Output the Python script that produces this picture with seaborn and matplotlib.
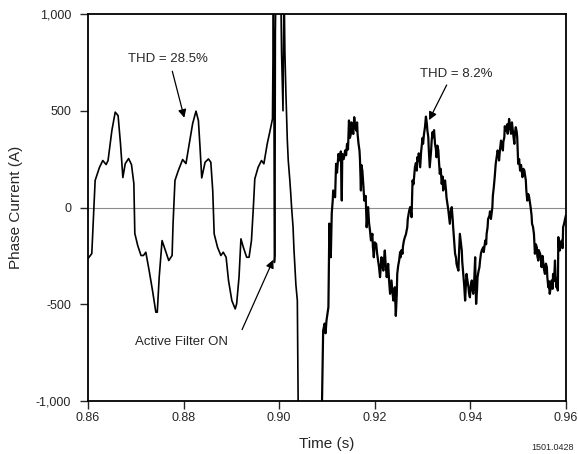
import numpy as np
import pandas as pd
import seaborn as sns
import matplotlib
matplotlib.use("Agg")
import matplotlib.pyplot as plt
from matplotlib.ticker import FuncFormatter

# phase current before the filter switches on (distorted, THD 28.5%)
t_pre = [0.8600, 0.8608, 0.8615, 0.8624, 0.8631, 0.8638, 0.8642, 0.8650, 0.8657, 0.8663,
         0.8668, 0.8673, 0.8678, 0.8685, 0.8691, 0.8696, 0.8698, 0.8704, 0.8711, 0.8716,
         0.8721, 0.8728, 0.8735, 0.8742, 0.8745, 0.8749, 0.8755, 0.8762, 0.8769, 0.8776,
         0.8778, 0.8782, 0.8789, 0.8798, 0.8805, 0.8812, 0.8819, 0.8826, 0.8831, 0.8834,
         0.8838, 0.8845, 0.8852, 0.8857, 0.8861, 0.8864, 0.8871, 0.8878, 0.8883, 0.8889,
         0.8894, 0.8901, 0.8908, 0.8911, 0.8916, 0.8920, 0.8925, 0.8932, 0.8937, 0.8942,
         0.8946, 0.8949, 0.8956, 0.8963, 0.8968, 0.8975, 0.8981, 0.8986]
i_pre = [-264, -238, 140, 207, 243, 222, 243, 398, 493, 475,
         331, 155, 227, 253, 222, 124, -134, -196, -248, -248,
         -231, -326, -429, -541, -541, -360, -171, -222, -274, -248,
         -83, 140, 191, 248, 227, 331, 434, 498, 450, 329,
         153, 234, 251, 234, 88, -136, -205, -248, -231, -257,
         -377, -481, -524, -498, -360, -162, -205, -257, -257, -171,
         2, 148, 208, 243, 226, 329, 398, 458]

# switching transient ("Active Filter ON")
t_mid = [0.8987, 0.8988, 0.8989, 0.8990, 0.8991, 0.8992, 0.8994, 0.8997, 0.9002, 0.9005,
         0.9008, 0.9010, 0.9012, 0.9014, 0.9017, 0.9019, 0.9022, 0.9024, 0.9026, 0.9029,
         0.9031, 0.9033, 0.9035, 0.9038, 0.9040, 0.9054, 0.9075]
i_mid = [760, 1150, 700, -284, -250, 900, 1300, 1200, 1400, 800,
         500, 1200, 800, 600, 350, 243, 150, 80, 0, -100,
         -220, -310, -400, -481, -1100, -1500, -1500]

# filtered current (THD 8.2%)
t_post = [0.9089, 0.9092, 0.9095, 0.9097, 0.9099, 0.9103, 0.9105, 0.9106, 0.9108, 0.9110,
          0.9112, 0.9113, 0.9117, 0.9119, 0.9121, 0.9124, 0.9127, 0.9129, 0.9131, 0.9132,
          0.9135, 0.9138, 0.9140, 0.9142, 0.9144, 0.9146, 0.9148, 0.9150, 0.9151, 0.9153,
          0.9155, 0.9157, 0.9159, 0.9161, 0.9163, 0.9164, 0.9166, 0.9168, 0.9169, 0.9171,
          0.9172, 0.9174, 0.9176, 0.9178, 0.9181, 0.9183, 0.9185, 0.9186, 0.9188, 0.9190,
          0.9192, 0.9195, 0.9196, 0.9198, 0.9200, 0.9203, 0.9205, 0.9207, 0.9209, 0.9211,
          0.9213, 0.9214, 0.9216, 0.9218, 0.9219, 0.9221, 0.9223, 0.9225, 0.9227, 0.9228,
          0.9230, 0.9232, 0.9234, 0.9235, 0.9237, 0.9239, 0.9240, 0.9242, 0.9243, 0.9244,
          0.9246, 0.9247, 0.9249, 0.9251, 0.9253, 0.9254, 0.9256, 0.9258, 0.9259, 0.9261,
          0.9263, 0.9265, 0.9268, 0.9269, 0.9272, 0.9274, 0.9276, 0.9277, 0.9279, 0.9281,
          0.9284, 0.9286, 0.9288, 0.9289, 0.9291, 0.9292, 0.9295, 0.9297, 0.9298, 0.9300,
          0.9301, 0.9303, 0.9305, 0.9307, 0.9309, 0.9310, 0.9312, 0.9313, 0.9315, 0.9318,
          0.9319, 0.9321, 0.9322, 0.9324, 0.9326, 0.9328, 0.9329, 0.9331, 0.9333, 0.9334,
          0.9336, 0.9338, 0.9340, 0.9342, 0.9343, 0.9345, 0.9347, 0.9349, 0.9350, 0.9352,
          0.9354, 0.9355, 0.9357, 0.9359, 0.9361, 0.9363, 0.9364, 0.9366, 0.9368, 0.9370,
          0.9371, 0.9373, 0.9375, 0.9376, 0.9378, 0.9380, 0.9382, 0.9383, 0.9385, 0.9387,
          0.9389, 0.9391, 0.9392, 0.9394, 0.9396, 0.9397, 0.9399, 0.9401, 0.9403, 0.9404,
          0.9406, 0.9408, 0.9410, 0.9411, 0.9412, 0.9414, 0.9415, 0.9417, 0.9419, 0.9420,
          0.9422, 0.9424, 0.9427, 0.9428, 0.9431, 0.9433, 0.9434, 0.9436, 0.9437, 0.9440,
          0.9441, 0.9443, 0.9446, 0.9447, 0.9449, 0.9451, 0.9453, 0.9455, 0.9457, 0.9459,
          0.9460, 0.9462, 0.9464, 0.9466, 0.9468, 0.9469, 0.9471, 0.9472, 0.9474, 0.9477,
          0.9478, 0.9480, 0.9481, 0.9483, 0.9485, 0.9487, 0.9488, 0.9490, 0.9492, 0.9493,
          0.9495, 0.9497, 0.9498, 0.9500, 0.9502, 0.9504, 0.9506, 0.9509, 0.9511, 0.9513,
          0.9516, 0.9517, 0.9519, 0.9521, 0.9523, 0.9525, 0.9526, 0.9528, 0.9529, 0.9531,
          0.9533, 0.9535, 0.9537, 0.9539, 0.9540, 0.9542, 0.9543, 0.9546, 0.9548, 0.9549,
          0.9551, 0.9552, 0.9554, 0.9556, 0.9558, 0.9560, 0.9561, 0.9563, 0.9564, 0.9566,
          0.9569, 0.9570, 0.9572, 0.9573, 0.9575, 0.9577, 0.9578, 0.9580, 0.9581, 0.9583,
          0.9584, 0.9585, 0.9587, 0.9590, 0.9591, 0.9593, 0.9594, 0.9596, 0.9598, 0.9600]
i_post = [-1100, -636, -600, -650, -584, -515, -83, -150, -257, -30,
          36, 88, 53, 226, 180, 277, 243, 290, 36, 277,
          250, 295, 270, 329, 300, 450, 360, 381, 440, 415,
          380, 467, 420, 398, 440, 381, 330, 295, 250, 88,
          220, 191, 120, 36, 60, -102, -30, 2, -80, -119,
          -170, -136, -200, -257, -180, -188, -240, -274, -310, -360,
          -290, -257, -300, -326, -280, -222, -300, -360, -320, -291,
          -380, -446, -400, -377, -440, -481, -440, -412, -480, -560,
          -450, -343, -300, -274, -230, -257, -220, -239, -200, -171,
          -153, -140, -102, -60, -16, 2, -30, -50, 140, 120,
          208, 230, 191, 260, 243, 280, 208, 290, 312, 360,
          329, 380, 415, 470, 432, 400, 363, 300, 208, 300,
          346, 390, 363, 400, 329, 300, 260, 320, 295, 250,
          174, 200, 122, 160, 88, 110, 140, 90, 53, 20,
          -16, -40, -84, -20, 2, -60, -102, -170, -239, -260,
          -291, -310, -326, -250, -136, -180, -222, -280, -343, -400,
          -481, -380, -343, -380, -412, -440, -464, -400, -377, -420,
          -446, -380, -257, -400, -498, -420, -360, -330, -308, -280,
          -239, -220, -205, -230, -171, -190, -136, -102, -60, -41,
          -20, -59, 2, 60, 105, 160, 226, 260, 295, 270,
          243, 300, 346, 320, 295, 340, 363, 420, 398, 430,
          381, 420, 458, 420, 381, 440, 415, 370, 329, 380,
          415, 390, 363, 226, 250, 191, 220, 157, 200, 191,
          140, 90, 36, 70, 53, 20, 2, -40, -84, -100,
          -136, -239, -190, -205, -250, -274, -220, -239, -280, -308,
          -250, -274, -320, -343, -290, -308, -360, -412, -380, -446,
          -400, -377, -420, -343, -380, -274, -350, -412, -380, -429,
          -153, -200, -222, -180, -171, -210, -102, -84, -60, -40]

x_ticks = [0.86, 0.88, 0.90, 0.92, 0.94, 0.96]
y_ticks = [-1000, -500, 0, 500, 1000]

df_before = pd.DataFrame({"time": t_pre + t_mid, "current": i_pre + i_mid})
df_after = pd.DataFrame({"time": t_mid[-1:] + t_post, "current": i_mid[-1:] + i_post})

sns.set_style("ticks")
plt.rcParams["font.family"] = ["Liberation Sans", "DejaVu Sans"]
plt.rcParams["axes.unicode_minus"] = False

fig = plt.figure(figsize=(5.78, 4.54), dpi=100)
ax = fig.add_axes([0.1522, 0.1167, 0.827, 0.8524])

ax.axhline(0, color="#8c8c8c", lw=0.8, zorder=1)
sns.lineplot(data=df_before, x="time", y="current", color="black", lw=1.2,
             sort=False, estimator=None, ax=ax, zorder=2)
# noisy filtered trace looks heavier in the scope capture
sns.lineplot(data=df_after, x="time", y="current", color="black", lw=1.6,
             sort=False, estimator=None, ax=ax, zorder=2)

ax.set_xlim(0.86, 0.96)
ax.set_ylim(-1000, 1000)
ax.set_xticks(x_ticks)
ax.set_yticks(y_ticks)
ax.xaxis.set_major_formatter(FuncFormatter(lambda v, p: f"{v:.2f}"))
ax.yaxis.set_major_formatter(FuncFormatter(lambda v, p: f"{int(round(v)):,}"))
ax.tick_params(axis="x", direction="out", length=6, width=1, pad=2, labelsize=9)
ax.tick_params(axis="y", direction="out", length=6, width=1, pad=6, labelsize=9)
for s in ax.spines.values():
    s.set_linewidth(1.3)
    s.set_color("black")

ax.set_xlabel("Time (s)", fontsize=11, labelpad=9)
ax.set_ylabel("Phase Current (A)", fontsize=11, labelpad=9)

arrow = dict(arrowstyle="-|>", color="black", lw=0.9, mutation_scale=12)
ax.annotate("", xy=(0.8803, 450), xytext=(0.8775, 718), arrowprops=arrow)
ax.text(0.8767, 765, "THD = 28.5%", fontsize=9.5, ha="center", va="center")
ax.annotate("", xy=(0.9311, 439), xytext=(0.9353, 646), arrowprops=arrow)
ax.text(0.9370, 690, "THD = 8.2%", fontsize=9.5, ha="center", va="center")
ax.annotate("", xy=(0.8990, -257), xytext=(0.8920, -644), arrowprops=arrow)
ax.text(0.8796, -696, "Active Filter ON", fontsize=9.5, ha="center", va="center")

fig.text(574 / 578, 1 - 448 / 454, "1501.0428", fontsize=6.5, ha="right", va="center")

fig.savefig("out.png", dpi=100)
